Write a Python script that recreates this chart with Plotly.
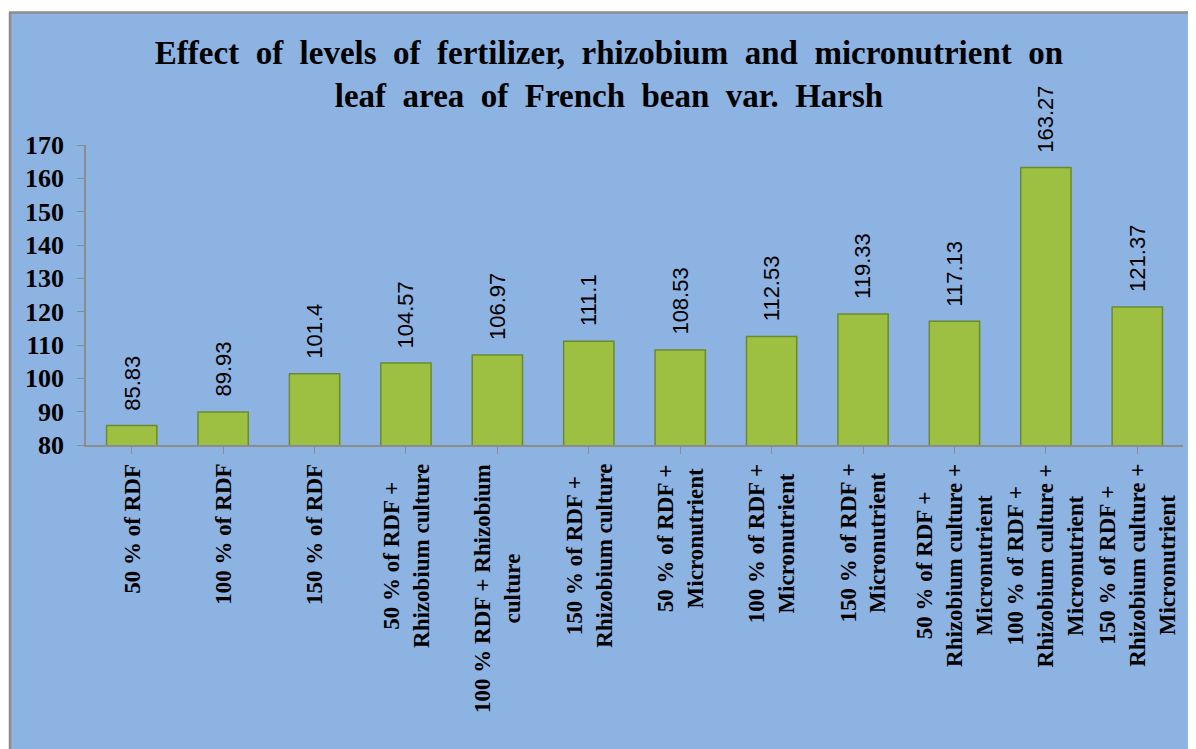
import plotly.graph_objects as go

categories = [
    "50 % of RDF",
    "100 % of RDF",
    "150 % of RDF",
    "50 % of RDF +<br>Rhizobium culture",
    "100 % RDF + Rhizobium<br>culture",
    "150 % of RDF +<br>Rhizobium culture",
    "50 % of RDF +<br>Micronutrient",
    "100 % of RDF +<br>Micronutrient",
    "150 % of RDF +<br>Micronutrient",
    "50 % of RDF +<br>Rhizobium culture +<br>Micronutrient",
    "100 % of RDF +<br>Rhizobium culture +<br>Micronutrient",
    "150 % of RDF +<br>Rhizobium culture +<br>Micronutrient",
]
values = [85.83, 89.93, 101.4, 104.57, 106.97, 111.1, 108.53, 112.53, 119.33, 117.13, 163.27, 121.37]
value_labels = ["85.83", "89.93", "101.4", "104.57", "106.97", "111.1", "108.53", "112.53",
                "119.33", "117.13", "163.27", "121.37"]
y_ticks = [80, 90, 100, 110, 120, 130, 140, 150, 160, 170]
title_line1 = "Effect of levels of fertilizer, rhizobium and micronutrient on"
title_line2 = "leaf area of French bean var. Harsh"

W, H = 1188, 741
L, R, T, B = 78, 13, 137, 304
PW, PH = W - L - R, H - T - B
BG = "#8DB3E2"
SERIF = "Liberation Serif, Times New Roman, serif"
SANS = "Liberation Sans, Arial, sans-serif"

def px_x(p):
    return (p - L) / PW

def px_y(p):
    return (H - B - p) / PH

def spaced(s):
    return " \u00a0".join(s.split(" "))

xidx = list(range(len(categories)))

fig = go.Figure()
fig.add_trace(go.Bar(
    x=xidx, y=values,
    marker=dict(color="#9DC043", line=dict(color="#6C8A2C", width=1.5)),
    width=0.55,
    hoverinfo="y",
))

annotations = []
for i, (v, t) in enumerate(zip(values, value_labels)):
    annotations.append(dict(
        x=i, y=v, xref="x", yref="y", text=t, textangle=-90,
        showarrow=False, yanchor="bottom", xanchor="center", yshift=13,
        font=dict(family=SANS, size=22, color="black"),
    ))
for i, c in enumerate(categories):
    annotations.append(dict(
        x=i, y=px_y(454), xref="x", yref="paper", text=c, textangle=-90,
        showarrow=False, yanchor="top", xanchor="center", align="center",
        font=dict(family=SERIF, size=23, color="black", weight="bold"),
    ))

shapes = [
    dict(type="rect", xref="paper", yref="paper", x0=px_x(0), x1=px_x(1), y0=px_y(H), y1=px_y(0),
         fillcolor="white", line=dict(width=0), layer="above"),
    dict(type="rect", xref="paper", yref="paper", x0=px_x(0), x1=px_x(W), y0=px_y(4), y1=px_y(0),
         fillcolor="white", line=dict(width=0), layer="above"),
    dict(type="line", xref="paper", yref="paper", x0=px_x(2), x1=px_x(2), y0=px_y(H), y1=px_y(4.5),
         line=dict(color="#8C8C8C", width=2.5), layer="above"),
    dict(type="line", xref="paper", yref="paper", x0=px_x(1), x1=px_x(W), y0=px_y(4.5), y1=px_y(4.5),
         line=dict(color="#8C8C8C", width=2.5), layer="above"),
]

fig.update_layout(
    width=W, height=H,
    margin=dict(l=L, r=R, t=T, b=B, autoexpand=False),
    paper_bgcolor=BG, plot_bgcolor=BG,
    showlegend=False,
    bargap=0.45,
    title=dict(
        text=spaced(title_line1) + "<br>" + spaced(title_line2),
        x=601 / W, xref="container", xanchor="center",
        y=1 - 56 / H, yref="container", yanchor="top",
        font=dict(family=SERIF, size=33, color="black", weight="bold"),
    ),
    xaxis=dict(
        range=[-0.5, len(categories) - 0.5],
        tickmode="array", tickvals=xidx, ticktext=[""] * len(categories),
        showticklabels=False, tickson="boundaries",
        ticks="outside", ticklen=7, tickcolor="#8C8C8C", tickwidth=1,
        showline=True, linecolor="#8C8C8C", linewidth=1.5,
        showgrid=False, zeroline=False, fixedrange=True,
    ),
    yaxis=dict(
        range=[80, 170], tickmode="array", tickvals=y_ticks,
        ticktext=[str(v) for v in y_ticks],
        ticks="outside", ticklen=7, tickcolor="#8C8C8C", tickwidth=1,
        showline=True, linecolor="#8C8C8C", linewidth=1.5,
        showgrid=False, zeroline=False, ticklabelstandoff=8,
        tickfont=dict(family=SERIF, size=26, color="black", weight="bold"),
        fixedrange=True,
    ),
    annotations=annotations,
    shapes=shapes,
)

fig.write_html("out.html")
